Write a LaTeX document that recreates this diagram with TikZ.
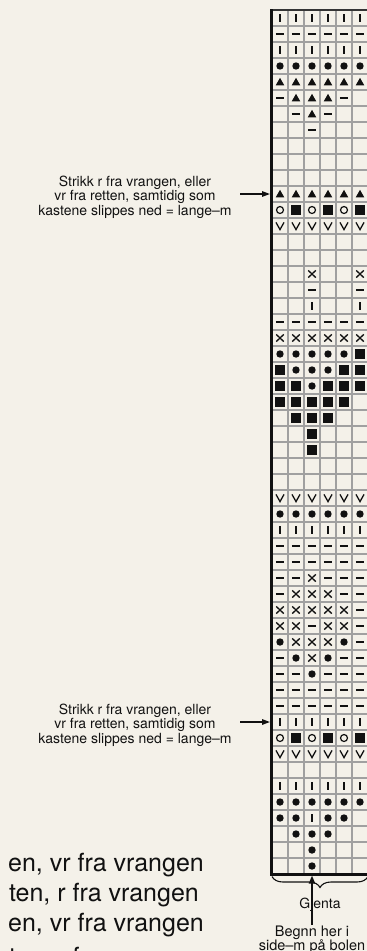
\documentclass[tikz,border=0pt]{standalone}
\usepackage{fontspec}
\setmainfont{TeX Gyre Heros}
\usetikzlibrary{arrows.meta,decorations.pathreplacing}
\definecolor{bg}{HTML}{F4F1E9}
\definecolor{gridc}{HTML}{A0A0A0}
\definecolor{ink}{HTML}{111111}

\newcommand\ksymP{\draw[ink,line width=2] (0,-3.6)--(0,3.6);}
\newcommand\ksymD{\draw[ink,line width=1.8] (-4.2,0)--(4.2,0);}
\newcommand\ksymO{\fill[ink] (0,0) circle (3.7);}
\newcommand\ksymT{\fill[ink] (-4.3,3.4)--(4.3,3.4)--(0,-4.2)--cycle;}
\newcommand\ksymS{\fill[ink] (-5.3,-5.3) rectangle (5.3,5.3);}
\newcommand\ksymC{\draw[ink,line width=1.2] (0,0) circle (3.5);}
\newcommand\ksymV{\draw[ink,line width=1.3] (-4,-3.6)--(0,3.6)--(4,-3.6);}
\newcommand\ksymX{\draw[ink,line width=1.3] (-3.8,-3.6)--(3.8,3.6) (-3.8,3.6)--(3.8,-3.6);}
\newcommand\ksymE{}
\newcommand\krow[7]{\foreach[count=\cc] \s in {#2,#3,#4,#5,#6,#7}{\begin{scope}[shift={({264+16*\cc},{16*#1+2})}]\csname ksym\s\endcsname\end{scope}}}

\tikzset{
  annot/.style={font=\fontsize{14}{14.5}\selectfont, align=center, text=ink, inner sep=0},
  lbl/.style={font=\fontsize{14.5}{14.5}\selectfont, text=ink, inner sep=0, anchor=base},
  legend/.style={font=\fontsize{25}{30}\selectfont, text=ink, inner sep=0, anchor=base east},
  ptr/.style={ink, line width=1.4, -{Triangle[length=8,width=5.5]}},
}

\begin{document}
\begin{tikzpicture}[x=1pt,y=-1pt]
\path[use as bounding box] (0,0) rectangle (367,951);
\clip (0,0) rectangle (367,951);
\fill[bg] (0,0) rectangle (367,951);

% grid
\foreach \k in {1,...,53} \draw[gridc, line width=1.2] (272,{10+16*\k}) -- (368,{10+16*\k});
\foreach \k in {1,...,6} \draw[gridc, line width=1.2] ({272+16*\k},10) -- ({272+16*\k},874);
\draw[ink!85, line width=1.3] (271,10) -- (368,10);

% symbols
\krow{1}{P}{P}{P}{P}{P}{P}
\krow{2}{D}{D}{D}{D}{D}{D}
\krow{3}{P}{P}{P}{P}{P}{P}
\krow{4}{O}{O}{O}{O}{O}{O}
\krow{5}{T}{T}{T}{T}{T}{T}
\krow{6}{D}{T}{T}{T}{D}{E}
\krow{7}{E}{D}{T}{D}{E}{E}
\krow{8}{E}{E}{D}{E}{E}{E}
\krow{12}{T}{T}{T}{T}{T}{T}
\krow{13}{C}{S}{C}{S}{C}{S}
\krow{14}{V}{V}{V}{V}{V}{V}
\krow{17}{E}{E}{X}{E}{E}{X}
\krow{18}{E}{E}{D}{E}{E}{D}
\krow{19}{E}{E}{P}{E}{E}{P}
\krow{20}{D}{D}{D}{D}{D}{D}
\krow{21}{X}{X}{X}{X}{X}{X}
\krow{22}{O}{O}{O}{O}{O}{S}
\krow{23}{S}{O}{O}{O}{S}{S}
\krow{24}{S}{S}{O}{S}{S}{S}
\krow{25}{S}{S}{S}{S}{S}{E}
\krow{26}{E}{S}{S}{S}{E}{E}
\krow{27}{E}{E}{S}{E}{E}{E}
\krow{28}{E}{E}{S}{E}{E}{E}
\krow{31}{V}{V}{V}{V}{V}{V}
\krow{32}{O}{O}{O}{O}{O}{O}
\krow{33}{P}{P}{P}{P}{P}{P}
\krow{34}{D}{D}{D}{D}{D}{D}
\krow{35}{D}{D}{D}{D}{D}{D}
\krow{36}{D}{D}{X}{D}{D}{D}
\krow{37}{D}{X}{X}{X}{D}{D}
\krow{38}{X}{X}{X}{X}{X}{D}
\krow{39}{X}{X}{D}{X}{X}{D}
\krow{40}{O}{X}{X}{X}{O}{D}
\krow{41}{D}{O}{X}{O}{D}{D}
\krow{42}{D}{D}{O}{D}{D}{D}
\krow{43}{D}{D}{D}{D}{D}{D}
\krow{44}{D}{D}{D}{D}{D}{D}
\krow{45}{P}{P}{P}{P}{P}{P}
\krow{46}{C}{S}{C}{S}{C}{S}
\krow{47}{V}{V}{V}{V}{V}{V}
\krow{49}{P}{P}{P}{P}{P}{P}
\krow{50}{O}{O}{O}{O}{O}{O}
\krow{51}{O}{O}{P}{O}{O}{E}
\krow{52}{E}{O}{O}{O}{E}{E}
\krow{53}{E}{E}{O}{E}{E}{E}
\krow{54}{E}{E}{O}{E}{E}{E}

% frame
\draw[ink, line width=3.5] (271.5,9.3) -- (271.5,875.5);
\draw[ink, line width=3] (270,874) -- (368,874);

% annotations
\node[annot] (n1) at (135,197) {Strikk r fra vrangen, eller\\vr fra retten, samtidig som\\kastene slippes ned = lange–m};
\coordinate (s1) at (240,194);
\coordinate (t1) at (270,194);
\draw[ptr] (s1) -- (t1);

\node[annot] (n2) at (135,725) {Strikk r fra vrangen, eller\\vr fra retten, samtidig som\\kastene slippes ned = lange–m};
\coordinate (s2) at (240,722);
\coordinate (t2) at (270,722);
\draw[ptr] (s2) -- (t2);

% legend (cut off)
\node[legend] (l1) at (204,871.5) {en, vr fra vrangen};
\node[legend] (l2) at (199,901.5) {ten, r fra vrangen};
\node[legend] (l3) at (204,931.5) {en, vr fra vrangen};
\node[legend] (l4) at (199,965) {ten, r fra vrangen};

% brace and start
\coordinate (bl) at (272,876.5);
\coordinate (br) at (368,876.5);
\draw[ink, line width=1.1, decorate, decoration={brace, amplitude=11, mirror}] (bl) -- (br);
\node[lbl, font=\fontsize{14}{14}\selectfont] (gj) at (320,908) {Gjenta};
\node[lbl] (b1) at (312,936) {Begnn her i};
\node[lbl] (b2) at (312,950.5) {side–m på bolen};
\coordinate (start) at (312,875.5);
\draw[ink, line width=2, -{Triangle[length=8,width=6]}] (b1.north) -- (start);
\end{tikzpicture}
\end{document}
